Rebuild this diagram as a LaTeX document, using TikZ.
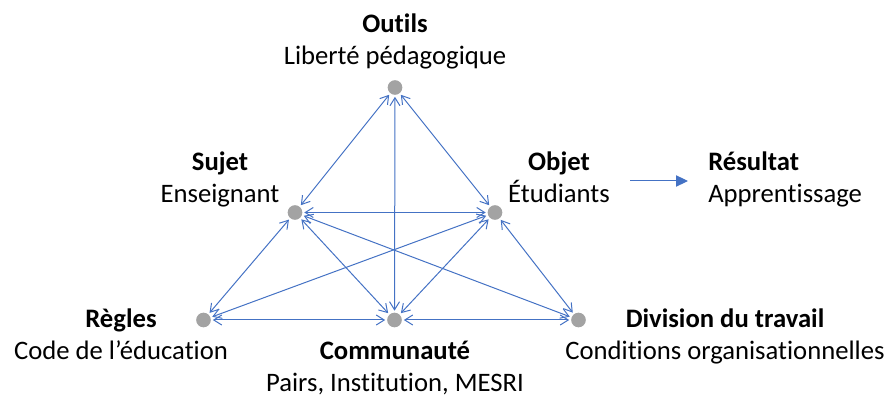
\documentclass[tikz,border=0pt]{standalone}
\usepackage{fontspec}
\setmainfont{Carlito}[Ligatures=NoCommon]
\usetikzlibrary{arrows.meta}
\definecolor{lnblue}{RGB}{68,114,196}
\definecolor{dotgray}{RGB}{163,163,163}

\begin{document}
\begin{tikzpicture}[x=0.75pt,y=0.75pt,yscale=-1,xscale=1,
  pt/.style={circle,fill=dotgray,inner sep=0pt,minimum size=11pt,outer sep=1.5pt},
  link/.style={draw=lnblue,line width=0.75,{Straight Barb[length=6pt,width=7.5pt]}-{Straight Barb[length=6pt,width=7.5pt]}},
  ttl/.style={font=\fontsize{20}{24}\bfseries\selectfont,inner sep=0pt,anchor=base},
  sub/.style={font=\fontsize{20}{24}\selectfont,inner sep=0pt,anchor=base}]
\useasboundingbox (0,0) rectangle (889,398);

%Shape: Circle
\node [pt] (outils) at (395,87.5) {};
\node [pt] (sujet) at (295,212.5) {};
\node [pt] (objet) at (495,212.5) {};
\node [pt] (regles) at (203.5,320) {};
\node [pt] (commu) at (394.5,320) {};
\node [pt] (divis) at (578.5,320) {};

%Straight Lines
\draw [link] (outils) -- (sujet);
\draw [link] (outils) -- (objet);
\draw [link] (outils) -- (commu);
\draw [link] (sujet) -- (objet);
\draw [link] (sujet) -- (regles);
\draw [link] (sujet) -- (commu);
\draw [link] (sujet) -- (divis);
\draw [link] (objet) -- (regles);
\draw [link] (objet) -- (commu);
\draw [link] (objet) -- (divis);
\draw [link] (regles) -- (commu);
\draw [link] (commu) -- (divis);

%Straight Lines
\coordinate (resfrom) at (630,181);
\coordinate (resto) at (688,181);
\draw [draw=lnblue,line width=0.75,-{Triangle[length=9pt,width=8.5pt]}] (resfrom) -- (resto);

% Text Node
\node [ttl] (outT) at (395,33) {Outils};
\node [sub] (outS) at (395,65) {Liberté pédagogique};
% Text Node
\node [ttl] (sujT) at (220,171) {Sujet};
\node [sub] (sujS) at (220,203) {Enseignant};
% Text Node
\node [ttl] (objT) at (559,171) {Objet};
\node [sub] (objS) at (559,203) {Étudiants};
% Text Node
\node [ttl,anchor=base west] (resT) at (708,171) {Résultat};
\node [sub,anchor=base west] (resS) at (708,203) {Apprentissage};
% Text Node
\node [ttl] (regT) at (121,328) {Règles};
\node [sub] (regS) at (121,360) {Code de l’éducation};
% Text Node
\node [ttl] (comT) at (395,360) {Communauté};
\node [sub] (comS) at (395,392) {Pairs, Institution, MESRI};
% Text Node
\node [ttl] (divT) at (725,328) {Division du travail};
\node [sub] (divS) at (725,360) {Conditions organisationnelles};

\end{tikzpicture}
\end{document}
